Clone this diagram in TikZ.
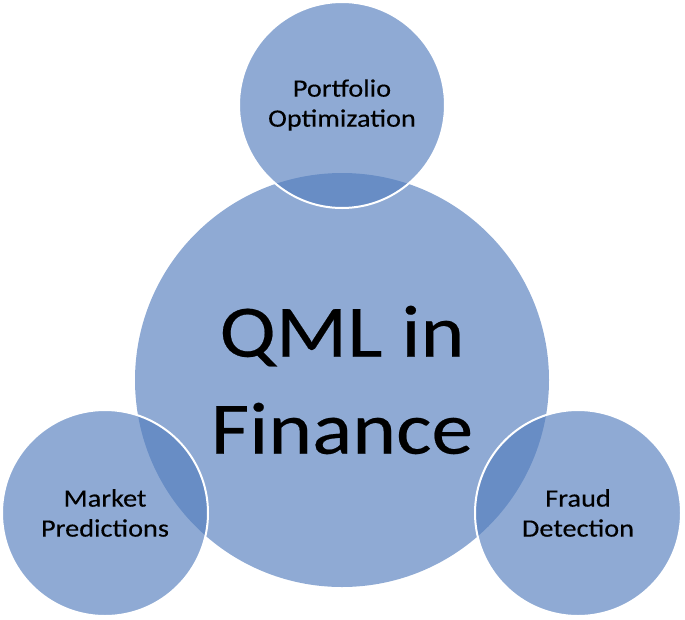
\documentclass[tikz,border=0pt]{standalone}
\usepackage{fontspec}
\setmainfont{Carlito}[FakeStretch=1.13, FakeBold=0.3]
\usetikzlibrary{positioning}
\definecolor{vennblue}{RGB}{83,125,189}

\begin{document}
\begin{tikzpicture}[x=1pt, y=-1pt,
    bubble/.style={circle, fill=vennblue, fill opacity=0.65, text opacity=1, align=center, inner sep=0pt},
    hub/.style={bubble, minimum size=414pt, font=\fontsize{74}{97}\selectfont},
    petal/.style={bubble, draw=white, line width=2pt, minimum size=206pt, font=\fontsize{25}{30}\selectfont}
]
    \useasboundingbox (0,0) rectangle (685,619);
    % Centre circle
    \node[hub] (qml) at (342,380) {QML in\\Finance};
    % Outer circles
    \node[petal] (portfolio) at (342,105) {Portfolio\\Optimization};
    \node[petal] (market) at (105,513) {Market\\Predictions};
    \node[petal] (fraud) at (578,513) {Fraud\\Detection};
\end{tikzpicture}
\end{document}
